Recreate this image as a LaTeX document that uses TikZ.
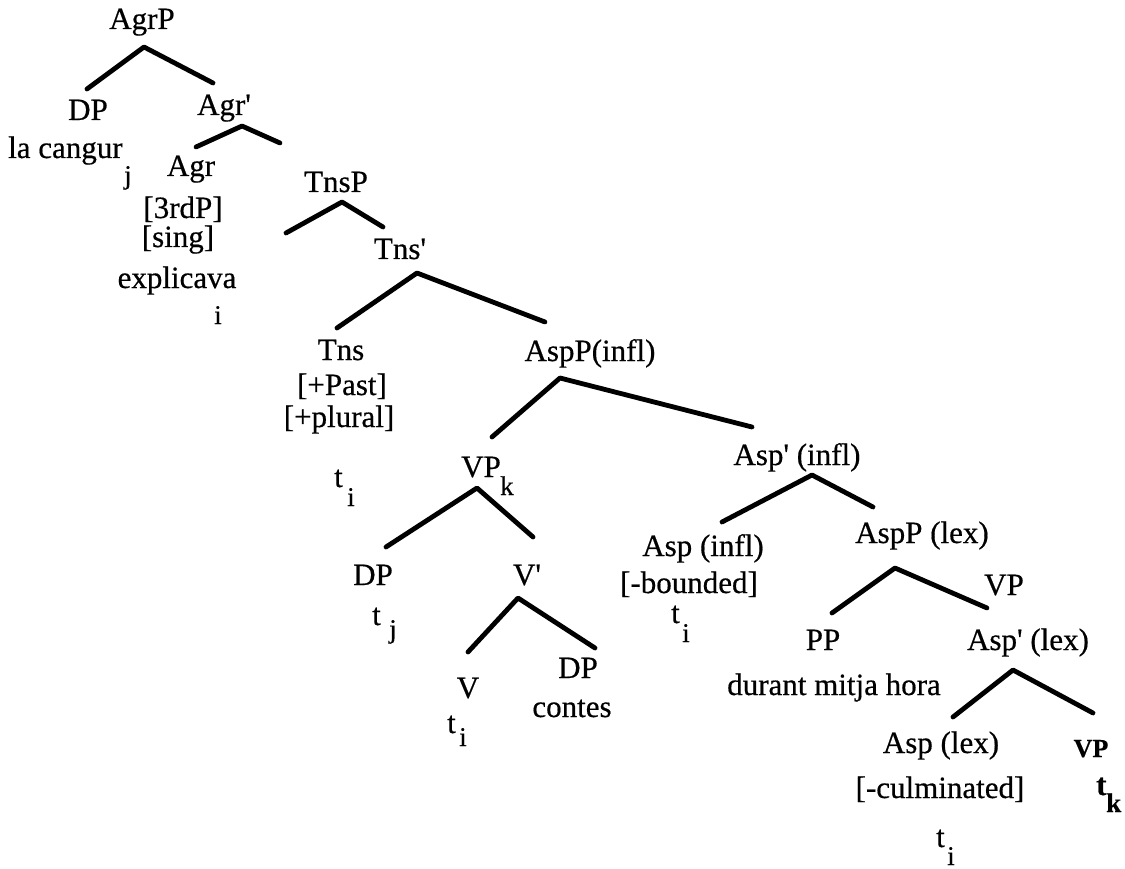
\documentclass[tikz,border=0pt]{standalone}
\usepackage{fontspec}
\setmainfont{Liberation Serif}[FakeBold=0.5]
\newcommand{\prm}{\textquotesingle}
\begin{document}
\begin{tikzpicture}[x=1pt,y=-1pt,
  lbl/.style={anchor=base,inner sep=0pt,font=\fontsize{31}{31}\selectfont},
  lblw/.style={anchor=base west,inner sep=0pt,font=\fontsize{31}{31}\selectfont},
  subscr/.style={anchor=base west,inner sep=0pt,font=\fontsize{27}{27}\selectfont},
  branch/.style={line width=4.8pt,line cap=round,line join=round}]
\useasboundingbox (0,0) rectangle (1125,869);

% ---- labels ----
\node[lbl] (agrp) at (142,29) {AgrP};
\node[lbl] (dp1) at (88,120) {DP};
\node[lbl] (agrbar) at (224,115) {Agr\prm};
\node[lblw] (cangur) at (8,158) {la cangur};
\node[subscr] (cangur-j) at (124,184) {j};
\node[lbl] (agr) at (191,176) {Agr};
\node[lbl] (f3rd) at (183,218) {[3rdP]};
\node[lbl] (fsing) at (178,247) {[sing]};
\node[lbl] (explicava) at (177,288) {explicava};
\node[subscr,anchor=base] (expl-i) at (218,324) {i};

\node[lbl] (tnsp) at (336,192) {TnsP};
\node[lbl] (tnsbar) at (400,259) {Tns\prm};
\node[lbl] (tns) at (341,360) {Tns};
\node[lbl] (asppinfl) at (590,361) {AspP(infl)};
\node[lbl] (fpast) at (342,395) {[+Past]};
\node[lbl] (fplural) at (339,427) {[+plural]};
\node[lblw] (tns-t) at (334,487) {t};
\node[subscr] (tns-i) at (347,506) {i};

\node[lblw] (vpk) at (461,477) {VP};
\node[subscr] (vpk-k) at (500,495) {k};
\node[lbl] (dp2) at (373,585) {DP};
\node[lblw] (dp2-t) at (372,625) {t};
\node[subscr] (dp2-j) at (389,638) {j};
\node[lbl] (vbar) at (527,585) {V\prm};
\node[lbl] (v) at (468,698) {V};
\node[lblw] (v-t) at (447,733) {t};
\node[subscr] (v-i) at (459,746) {i};
\node[lbl] (dp3) at (578,678) {DP};
\node[lbl] (contes) at (572,717) {contes};

\node[lbl] (aspbarinfl) at (797,465) {Asp\prm{} (infl)};
\node[lbl] (aspinfl) at (703,556) {Asp (infl)};
\node[lbl] (fbounded) at (689,593) {[-bounded]};
\node[lblw] (aspinfl-t) at (671,623) {t};
\node[subscr] (aspinfl-i) at (682,642) {i};
\node[lbl] (aspplex) at (922,543) {AspP (lex)};
\node[lbl] (vp2) at (1004,595) {VP};
\node[lbl] (pp) at (823,650) {PP};
\node[lbl] (aspbarlex) at (1028,650) {Asp\prm{} (lex)};
\node[lbl] (durant) at (834,695) {durant mitja hora};
\node[lbl] (asplex) at (941,753) {Asp (lex)};
\node[lbl,font=\bfseries\fontsize{26}{26}\selectfont] (vp3) at (1091,757) {VP};
\node[lbl] (fculm) at (940,798) {[-culminated]};
\node[lblw,font=\bfseries\fontsize{31}{31}\selectfont] (vp3-t) at (1096,795) {t};
\node[subscr,font=\bfseries\fontsize{27}{27}\selectfont] (vp3-k) at (1106,812) {k};
\node[lblw] (bot-t) at (936,847) {t};
\node[subscr] (bot-i) at (947,865) {i};

% ---- branch points ----
\coordinate (agrp-a) at (144,47);  \coordinate (dp1-e) at (87,89);    \coordinate (agrbar-e) at (213,83);
\coordinate (agrbar-a) at (242,126); \coordinate (agr-e) at (196,147); \coordinate (tnsp-e) at (280,143);
\coordinate (tnsp-a) at (342,202); \coordinate (tnsp-l) at (286,233); \coordinate (tnsbar-e) at (383,227);
\coordinate (tnsbar-a) at (417,273); \coordinate (tns-e) at (337,328); \coordinate (asppinfl-e) at (545,322);
\coordinate (asppinfl-a) at (560,378); \coordinate (vpk-e) at (492,437); \coordinate (aspbarinfl-e) at (752,427);
\coordinate (vpk-a) at (477,488); \coordinate (dp2-e) at (386,547); \coordinate (vbar-e) at (533,537);
\coordinate (vbar-a) at (518,598); \coordinate (v-e) at (468,652); \coordinate (dp3-e) at (595,648);
\coordinate (aspbarinfl-a) at (812,475); \coordinate (aspinfl-e) at (722,522); \coordinate (aspplex-e) at (873,507);
\coordinate (aspplex-a) at (895,568); \coordinate (pp-e) at (832,613); \coordinate (vp2-e) at (987,608);
\coordinate (aspbarlex-a) at (1013,670); \coordinate (asplex-e) at (953,717); \coordinate (vp3-e) at (1093,713);

% ---- branches ----
\draw[branch] (dp1-e) -- (agrp-a) -- (agrbar-e);
\draw[branch] (agr-e) -- (agrbar-a) -- (tnsp-e);
\draw[branch] (tnsp-l) -- (tnsp-a) -- (tnsbar-e);
\draw[branch] (tns-e) -- (tnsbar-a) -- (asppinfl-e);
\draw[branch] (vpk-e) -- (asppinfl-a) -- (aspbarinfl-e);
\draw[branch] (dp2-e) -- (vpk-a) -- (vbar-e);
\draw[branch] (v-e) -- (vbar-a) -- (dp3-e);
\draw[branch] (aspinfl-e) -- (aspbarinfl-a) -- (aspplex-e);
\draw[branch] (pp-e) -- (aspplex-a) -- (vp2-e);
\draw[branch] (asplex-e) -- (aspbarlex-a) -- (vp3-e);
\end{tikzpicture}
\end{document}
